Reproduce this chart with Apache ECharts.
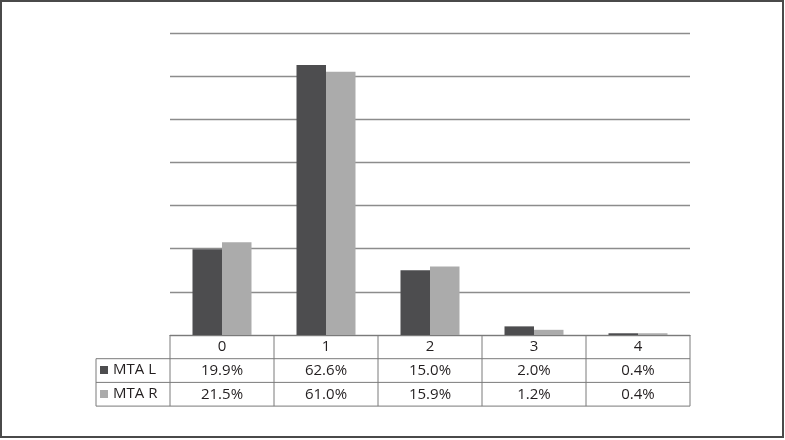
<!DOCTYPE html>
<html lang="en">
<head>
    <meta charset="UTF-8">
    <script src="https://cdn.jsdelivr.net/npm/echarts@6/dist/echarts.min.js"></script>
    <title>MTA</title>
    <style>
        html, body { margin: 0; padding: 0; background: #fff; }
        #main { width: 785px; height: 440px; }
    </style>
</head>
<body>
<div id="main"></div>
<script>
    var categories = ['0', '1', '2', '3', '4']
    var mtaL = [19.9, 62.6, 15.0, 2.0, 0.4]
    var mtaR = [21.5, 61.0, 15.9, 1.2, 0.4]
    var seriesNames = ['MTA L', 'MTA R']
    var colors = ['#4d4d4f', '#ababab']

    // layout of plot + data table
    var gridLeft = 170, gridRight = 690, gridTop = 33, gridBottom = 335
    var rowH = 23.7
    var tableLeft = 96
    var lineColor = '#7a7a7a'
    var textColor = '#231f20'
    var font = '"Open Sans", "Noto Sans", sans-serif'
    var fontSize = 15

    var myChart = echarts.init(document.getElementById('main'))

    function pct(arr) {
        return function (v, i) { return arr[i].toFixed(1) + '%' }
    }

    // table lines
    var lines = []
    var colW = (gridRight - gridLeft) / categories.length
    for (var r = 1; r <= 3; r++) {
        var y = gridBottom + r * rowH
        lines.push({ type: 'line', shape: { x1: tableLeft, y1: y, x2: gridRight, y2: y } })
    }
    lines.push({ type: 'line', shape: { x1: tableLeft, y1: gridBottom + rowH, x2: tableLeft, y2: gridBottom + 3 * rowH } })
    for (var c = 0; c <= categories.length; c++) {
        var x = gridLeft + c * colW
        lines.push({ type: 'line', shape: { x1: x, y1: gridBottom, x2: x, y2: gridBottom + 3 * rowH } })
    }
    lines.forEach(function (l) {
        l.style = { stroke: lineColor, lineWidth: 1 }
        l.silent = true
    })
    lines.push({
        type: 'rect', silent: true,
        shape: { x: 1, y: 1, width: 782, height: 436 },
        style: { fill: null, stroke: '#4a4a4a', lineWidth: 2 }
    })

    var xLabel = {
        color: textColor, fontSize: fontSize, fontFamily: font,
        verticalAlign: 'middle', margin: 12
    }

    var option = {
        animation: false,
        grid: { left: gridLeft, right: 785 - gridRight, top: gridTop, bottom: 440 - gridBottom },
        legend: {
            orient: 'vertical', left: 100, top: 362, padding: 0,
            itemWidth: 8, itemHeight: 8, itemGap: 8, icon: 'rect',
            textStyle: { color: textColor, fontSize: fontSize, fontFamily: font, lineHeight: 16 },
            data: seriesNames
        },
        xAxis: [
            {
                type: 'category', data: categories,
                axisLine: { lineStyle: { color: lineColor } },
                axisTick: { show: false },
                axisLabel: xLabel
            },
            {
                type: 'category', data: categories, position: 'bottom', offset: rowH,
                axisLine: { show: false }, axisTick: { show: false },
                axisLabel: Object.assign({}, xLabel, { formatter: pct(mtaL) })
            },
            {
                type: 'category', data: categories, position: 'bottom', offset: 2 * rowH,
                axisLine: { show: false }, axisTick: { show: false },
                axisLabel: Object.assign({}, xLabel, { formatter: pct(mtaR) })
            }
        ],
        yAxis: {
            type: 'value', min: 0, max: 70, interval: 10,
            axisLabel: { show: false },
            axisLine: { show: false }, axisTick: { show: false },
            splitLine: { lineStyle: { color: '#8c8c8c', width: 1.3 } }
        },
        series: [
            { name: seriesNames[0], type: 'bar', data: mtaL, barWidth: 29.5, barGap: '0%', itemStyle: { color: colors[0] } },
            { name: seriesNames[1], type: 'bar', data: mtaR, barWidth: 29.5, barGap: '0%', itemStyle: { color: colors[1] } }
        ],
        graphic: lines
    }

    myChart.setOption(option)
</script>
</body>
</html>
